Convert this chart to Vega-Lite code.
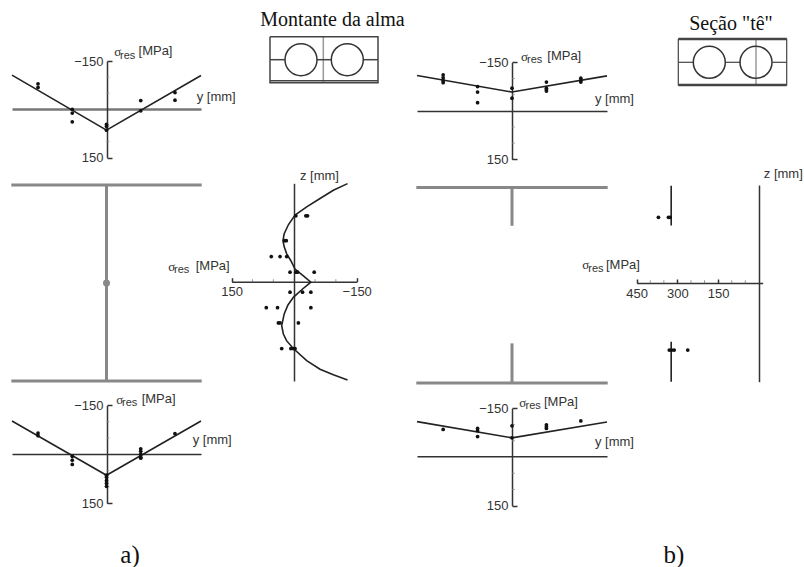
{
"$schema":"https://vega.github.io/schema/vega-lite/v6.json",
"width":804,"height":567,"padding":0,"autosize":{"type":"none"},
"background":"white",
"config":{"view":{"stroke":null},"axis":{"grid":false,"title":null,"labelFont":"Liberation Sans","labelFontSize":13,"labelColor":"#333","domainColor":"#333","tickColor":"#333","labelFlush":false,"labelOverlap":false,"labelBound":false,"domainWidth":1.5,"tickWidth":1.5}},
"datasets":{
"aTopFit":[{"y_mm":-138,"sigma":-106},{"y_mm":0,"sigma":65},{"y_mm":138,"sigma":-105}],
"aTopPts":[{"y_mm":-100,"sigma":-79},{"y_mm":-100,"sigma":-68},{"y_mm":-50,"sigma":0},{"y_mm":-50,"sigma":12},{"y_mm":-50,"sigma":39},{"y_mm":0,"sigma":47},{"y_mm":0,"sigma":53},{"y_mm":0,"sigma":65},{"y_mm":50,"sigma":-27},{"y_mm":50,"sigma":5},{"y_mm":100,"sigma":-52},{"y_mm":100,"sigma":-28}],
"aBotFit":[{"y_mm":-138,"sigma":-102},{"y_mm":0,"sigma":64},{"y_mm":138,"sigma":-102}],
"aBotPts":[{"y_mm":-100,"sigma":-65},{"y_mm":-100,"sigma":-57},{"y_mm":-50,"sigma":6},{"y_mm":-50,"sigma":18},{"y_mm":-50,"sigma":31},{"y_mm":0,"sigma":64},{"y_mm":0,"sigma":70},{"y_mm":0,"sigma":80},{"y_mm":0,"sigma":89},{"y_mm":0,"sigma":98},{"y_mm":50,"sigma":-17},{"y_mm":50,"sigma":-9},{"y_mm":50,"sigma":0},{"y_mm":50,"sigma":9},{"y_mm":50,"sigma":12},{"y_mm":100,"sigma":-63}],
"bTopFit":[{"y_mm":-138,"sigma":-109},{"y_mm":0,"sigma":-58},{"y_mm":138,"sigma":-108}],
"bTopPts":[{"y_mm":-100,"sigma":-111},{"y_mm":-100,"sigma":-102},{"y_mm":-100,"sigma":-93},{"y_mm":-100,"sigma":-87},{"y_mm":-50,"sigma":-75},{"y_mm":-50,"sigma":-58},{"y_mm":-50,"sigma":-25},{"y_mm":0,"sigma":-70},{"y_mm":0,"sigma":-39},{"y_mm":50,"sigma":-89},{"y_mm":50,"sigma":-70},{"y_mm":50,"sigma":-65},{"y_mm":50,"sigma":-61},{"y_mm":100,"sigma":-101},{"y_mm":100,"sigma":-93},{"y_mm":100,"sigma":-89}],
"bBotFit":[{"y_mm":-138,"sigma":-109},{"y_mm":0,"sigma":-59},{"y_mm":138,"sigma":-108}],
"bBotPts":[{"y_mm":-100,"sigma":-85},{"y_mm":-50,"sigma":-88},{"y_mm":-50,"sigma":-81},{"y_mm":-50,"sigma":-63},{"y_mm":0,"sigma":-96},{"y_mm":0,"sigma":-59},{"y_mm":50,"sigma":-99},{"y_mm":50,"sigma":-93},{"y_mm":50,"sigma":-88},{"y_mm":100,"sigma":-111}],
"minorY":[{"y_mm":0,"sigma":-100},{"y_mm":0,"sigma":-50},{"y_mm":0,"sigma":50},{"y_mm":0,"sigma":100}],
"webAFit":[{"o":1,"sigma":-128,"z_mm":142.5},{"o":2,"sigma":-94,"z_mm":133},{"o":3,"sigma":-62,"z_mm":121},{"o":4,"sigma":-30,"z_mm":109},{"o":5,"sigma":-2,"z_mm":97},{"o":6,"sigma":14,"z_mm":83},{"o":7,"sigma":24,"z_mm":70},{"o":8,"sigma":27,"z_mm":60},{"o":9,"sigma":24,"z_mm":51},{"o":10,"sigma":18,"z_mm":41},{"o":11,"sigma":8,"z_mm":31},{"o":12,"sigma":-2,"z_mm":19},{"o":13,"sigma":-22,"z_mm":9},{"o":14,"sigma":-40,"z_mm":0},{"o":15,"sigma":-18,"z_mm":-11},{"o":16,"sigma":2,"z_mm":-22},{"o":17,"sigma":15,"z_mm":-33},{"o":18,"sigma":24,"z_mm":-46},{"o":19,"sigma":30,"z_mm":-63},{"o":20,"sigma":26,"z_mm":-75},{"o":21,"sigma":18,"z_mm":-85},{"o":22,"sigma":2,"z_mm":-96},{"o":23,"sigma":-30,"z_mm":-113.5},{"o":24,"sigma":-62,"z_mm":-126},{"o":25,"sigma":-94,"z_mm":-134},{"o":26,"sigma":-128,"z_mm":-141.5}],
"webAPts":[{"sigma":-4,"z_mm":96},{"sigma":-28,"z_mm":96},{"sigma":-32,"z_mm":96},{"sigma":19,"z_mm":60},{"sigma":23,"z_mm":60},{"sigma":55,"z_mm":37},{"sigma":34,"z_mm":37},{"sigma":18,"z_mm":37},{"sigma":10,"z_mm":14.5},{"sigma":-4,"z_mm":14.5},{"sigma":-8,"z_mm":14.5},{"sigma":-48,"z_mm":14.5},{"sigma":10,"z_mm":-14.5},{"sigma":-20,"z_mm":-14.5},{"sigma":-40,"z_mm":-14.5},{"sigma":67,"z_mm":-37},{"sigma":40,"z_mm":-37},{"sigma":-40,"z_mm":-37},{"sigma":38,"z_mm":-59},{"sigma":34,"z_mm":-59},{"sigma":-10,"z_mm":-59},{"sigma":30,"z_mm":-96},{"sigma":8,"z_mm":-96},{"sigma":2,"z_mm":-96},{"sigma":-2,"z_mm":-96}],
"minorWebA":[{"sigma":100,"z_mm":0},{"sigma":50,"z_mm":0},{"sigma":-50,"z_mm":0},{"sigma":-100,"z_mm":0}],
"webBFit":[{"part":"top","sigma":323,"z_mm":142},{"part":"top","sigma":323,"z_mm":84},{"part":"bottom","sigma":323,"z_mm":-85},{"part":"bottom","sigma":323,"z_mm":-143}],
"webBPts":[{"sigma":370,"z_mm":96},{"sigma":333,"z_mm":96},{"sigma":327,"z_mm":96},{"sigma":330,"z_mm":-97},{"sigma":321,"z_mm":-97},{"sigma":312,"z_mm":-97},{"sigma":262,"z_mm":-97}],
"minorWebB":[{"sigma":400,"z_mm":0},{"sigma":350,"z_mm":0},{"sigma":250,"z_mm":0},{"sigma":200,"z_mm":0},{"sigma":100,"z_mm":0},{"sigma":50,"z_mm":0}],
"sectionA":[{"part":"top flange","y_mm":-139,"z_mm":143},{"part":"top flange","y_mm":139,"z_mm":143},{"part":"bottom flange","y_mm":-139,"z_mm":-143},{"part":"bottom flange","y_mm":139,"z_mm":-143},{"part":"web","y_mm":0,"z_mm":143},{"part":"web","y_mm":0,"z_mm":-143}],
"sectionB":[{"part":"top flange","y_mm":-139,"z_mm":143},{"part":"top flange","y_mm":139,"z_mm":143},{"part":"bottom flange","y_mm":-139,"z_mm":-143},{"part":"bottom flange","y_mm":139,"z_mm":-143},{"part":"top stem","y_mm":0,"z_mm":143},{"part":"top stem","y_mm":0,"z_mm":87},{"part":"bottom stem","y_mm":0,"z_mm":-143},{"part":"bottom stem","y_mm":0,"z_mm":-85}],
"beamA":[{"role":"thin","part":"outer","o":1,"u":0,"v":0},{"role":"thin","part":"outer","o":2,"u":108,"v":0},{"role":"thin","part":"outer","o":3,"u":108,"v":46},{"role":"thin","part":"outer","o":4,"u":0,"v":46},{"role":"thin","part":"outer","o":5,"u":0,"v":0},{"role":"thin","part":"second","o":1,"u":0,"v":44},{"role":"thin","part":"second","o":2,"u":108,"v":44},{"role":"thin","part":"l1","o":1,"u":0,"v":23},{"role":"thin","part":"l1","o":2,"u":15,"v":23},{"role":"thin","part":"l2","o":1,"u":47,"v":23},{"role":"thin","part":"l2","o":2,"u":61,"v":23},{"role":"thin","part":"l3","o":1,"u":93,"v":23},{"role":"thin","part":"l3","o":2,"u":108,"v":23},{"role":"cut","part":"cut","o":1,"u":53.3,"v":0},{"role":"cut","part":"cut","o":2,"u":53.3,"v":46}],
"beamAHoles":[{"u":31,"v":23},{"u":77.3,"v":23}],
"beamB":[{"role":"thin","part":"outer","o":1,"u":0,"v":0},{"role":"thin","part":"outer","o":2,"u":108.4,"v":0},{"role":"thin","part":"outer","o":3,"u":108.4,"v":46},{"role":"thin","part":"outer","o":4,"u":0,"v":46},{"role":"thin","part":"outer","o":5,"u":0,"v":0},{"role":"thick","part":"top","o":1,"u":0,"v":0},{"role":"thick","part":"top","o":2,"u":108.4,"v":0},{"role":"thick","part":"bottom","o":1,"u":0,"v":46},{"role":"thick","part":"bottom","o":2,"u":108.4,"v":46},{"role":"thin","part":"l1","o":1,"u":0,"v":23.3},{"role":"thin","part":"l1","o":2,"u":15,"v":23.3},{"role":"thin","part":"l2","o":1,"u":47,"v":23.3},{"role":"thin","part":"l2","o":2,"u":62,"v":23.3},{"role":"thin","part":"l3","o":1,"u":94,"v":23.3},{"role":"thin","part":"l3","o":2,"u":108.4,"v":23.3},{"role":"cut","part":"cut","o":1,"u":77.7,"v":0},{"role":"cut","part":"cut","o":2,"u":77.7,"v":46}],
"beamBHoles":[{"u":31,"v":23.3},{"u":77.7,"v":23.3}],
"sigmaLabels":[{"fx":14.22,"fy":9.17,"t":"σ"},{"fx":64.80,"fy":10.0,"t":"σ"},{"fx":14.47,"fy":70.55,"t":"σ"},{"fx":64.59,"fy":71.02,"t":"σ"},{"fx":20.93,"fy":47.04,"t":"σ"},{"fx":72.43,"fy":46.74,"t":"σ"}],
"subLabels":[{"fx":14.93,"fy":9.96,"t":"res"},{"fx":65.55,"fy":10.55,"t":"res"},{"fx":15.17,"fy":71.08,"t":"res"},{"fx":65.36,"fy":71.52,"t":"res"},{"fx":21.64,"fy":47.62,"t":"res"},{"fx":73.17,"fy":47.44,"t":"res"}],
"axisLabels":[{"fx":17.23,"fy":9.08,"t":"[MPa]"},{"fx":68.07,"fy":9.82,"t":"[MPa]"},{"fx":17.62,"fy":70.42,"t":"[MPa]"},{"fx":67.66,"fy":70.85,"t":"[MPa]"},{"fx":24.34,"fy":46.86,"t":"[MPa]"},{"fx":75.37,"fy":46.74,"t":"[MPa]"},{"fx":24.47,"fy":17.05,"t":"y [mm]"},{"fx":23.97,"fy":77.6,"t":"y [mm]"},{"fx":74.0,"fy":17.46,"t":"y [mm]"},{"fx":74.0,"fy":78.0,"t":"y [mm]"},{"fx":37.31,"fy":30.99,"t":"z [mm]"},{"fx":95.0,"fy":30.74,"t":"z [mm]"}],
"titles":[{"fx":41.36,"fy":3.53,"t":"Montante da alma"},{"fx":90.92,"fy":4.23,"t":"Seção \"tê\""}],
"captions":[{"fx":16.17,"fy":97.88,"t":"a)"},{"fx":83.83,"fy":97.88,"t":"b)"}]
},
"resolve":{"scale":{"x":"independent","y":"independent"},"axis":{"x":"independent","y":"independent"}},
"layer":[
{"encoding":{"x":{"field":"y_mm","type":"quantitative","scale":{"domain":[-138,138],"range":[12,201],"nice":false,"zero":false},"axis":null},"y":{"field":"z_mm","type":"quantitative","scale":{"domain":[-143,143],"range":[381,185],"nice":false,"zero":false},"axis":null}},
 "layer":[
 {"data":{"name":"sectionA"},"mark":{"type":"line","color":"#888","strokeWidth":3},"encoding":{"detail":{"field":"part"}}},
 {"data":{"values":[{"y_mm":0,"z_mm":0}]},"mark":{"type":"point","filled":true,"color":"#888","size":49,"opacity":1}}
 ]},
{"data":{"name":"sectionB"},"mark":{"type":"line","color":"#888","strokeWidth":3},"encoding":{"detail":{"field":"part"},"x":{"field":"y_mm","type":"quantitative","scale":{"domain":[-138,138],"range":[417,607],"nice":false,"zero":false},"axis":null},"y":{"field":"z_mm","type":"quantitative","scale":{"domain":[-143,143],"range":[383,187.5],"nice":false,"zero":false},"axis":null}}},
{"encoding":{"x":{"field":"y_mm","type":"quantitative","scale":{"domain":[-138,138],"range":[12,201],"nice":false,"zero":false},"axis":{"orient":"bottom","offset":-458,"ticks":false,"labels":false,"domainColor":"#777","domainWidth":2.5}},"y":{"field":"sigma","type":"quantitative","scale":{"domain":[-150,150],"range":[61,157.5],"nice":false,"zero":false},"axis":{"orient":"left","offset":-107,"values":[-150,150],"tickSize":-5,"labelPadding":9,"labelExpr":"datum.value<0?'−150':'150'"}}},
 "layer":[
 {"data":{"name":"minorY"},"mark":{"type":"tick","orient":"horizontal","size":3,"thickness":1,"color":"#888","xOffset":1.5}},
 {"data":{"name":"aTopFit"},"mark":{"type":"line","color":"#222","strokeWidth":1.6}},
 {"data":{"name":"aTopPts"},"mark":{"type":"point","filled":true,"color":"#111","size":14,"opacity":1}}
 ]},
{"encoding":{"x":{"field":"y_mm","type":"quantitative","scale":{"domain":[-138,138],"range":[12,201],"nice":false,"zero":false},"axis":{"orient":"bottom","offset":-113,"ticks":false,"labels":false}},"y":{"field":"sigma","type":"quantitative","scale":{"domain":[-150,150],"range":[405.3,503.3],"nice":false,"zero":false},"axis":{"orient":"left","offset":-107,"values":[-150,150],"tickSize":-5,"labelPadding":9,"labelExpr":"datum.value<0?'−150':'150'"}}},
 "layer":[
 {"data":{"name":"minorY"},"mark":{"type":"tick","orient":"horizontal","size":3,"thickness":1,"color":"#888","xOffset":1.5}},
 {"data":{"name":"aBotFit"},"mark":{"type":"line","color":"#222","strokeWidth":1.6}},
 {"data":{"name":"aBotPts"},"mark":{"type":"point","filled":true,"color":"#111","size":14,"opacity":1}}
 ]},
{"encoding":{"x":{"field":"y_mm","type":"quantitative","scale":{"domain":[-138,138],"range":[417,607],"nice":false,"zero":false},"axis":{"orient":"bottom","offset":-456,"ticks":false,"labels":false}},"y":{"field":"sigma","type":"quantitative","scale":{"domain":[-150,150],"range":[62.3,159.3],"nice":false,"zero":false},"axis":{"orient":"left","offset":-512,"values":[-150,150],"tickSize":-5,"labelPadding":9,"labelExpr":"datum.value<0?'−150':'150'"}}},
 "layer":[
 {"data":{"name":"minorY"},"mark":{"type":"tick","orient":"horizontal","size":3,"thickness":1,"color":"#888","xOffset":1.5}},
 {"data":{"name":"bTopFit"},"mark":{"type":"line","color":"#222","strokeWidth":1.6}},
 {"data":{"name":"bTopPts"},"mark":{"type":"point","filled":true,"color":"#111","size":14,"opacity":1}}
 ]},
{"encoding":{"x":{"field":"y_mm","type":"quantitative","scale":{"domain":[-138,138],"range":[417,607],"nice":false,"zero":false},"axis":{"orient":"bottom","offset":-110.7,"ticks":false,"labels":false}},"y":{"field":"sigma","type":"quantitative","scale":{"domain":[-150,150],"range":[408.3,505.7],"nice":false,"zero":false},"axis":{"orient":"left","offset":-512,"values":[-150,150],"tickSize":-5,"labelPadding":9,"labelExpr":"datum.value<0?'−150':'150'"}}},
 "layer":[
 {"data":{"name":"minorY"},"mark":{"type":"tick","orient":"horizontal","size":3,"thickness":1,"color":"#888","xOffset":1.5}},
 {"data":{"name":"bBotFit"},"mark":{"type":"line","color":"#222","strokeWidth":1.6}},
 {"data":{"name":"bBotPts"},"mark":{"type":"point","filled":true,"color":"#111","size":14,"opacity":1}}
 ]},
{"encoding":{"x":{"field":"sigma","type":"quantitative","scale":{"domain":[150,-150],"range":[231.7,356.7],"nice":false,"zero":false},"axis":{"orient":"bottom","offset":-285.3,"values":[150,-150],"tickSize":-4,"labelPadding":8,"labelExpr":"datum.value<0?'−150':'150'"}},"y":{"field":"z_mm","type":"quantitative","scale":{"domain":[-143,143],"range":[381,183.3],"nice":false,"zero":false},"axis":{"orient":"left","offset":-294,"ticks":false,"labels":false}}},
 "layer":[
 {"data":{"name":"minorWebA"},"mark":{"type":"tick","orient":"vertical","size":3,"thickness":1,"color":"#666","yOffset":-1.5}},
 {"data":{"name":"webAFit"},"mark":{"type":"line","color":"#222","strokeWidth":1.6},"encoding":{"order":{"field":"o"}}},
 {"data":{"name":"webAPts"},"mark":{"type":"point","filled":true,"color":"#111","size":14,"opacity":1}}
 ]},
{"encoding":{"x":{"field":"sigma","type":"quantitative","scale":{"domain":[450,-14],"range":[636.7,762.7],"nice":false,"zero":false},"axis":{"orient":"bottom","offset":-284,"values":[450,300,150],"tickSize":-4,"labelPadding":8,"format":"d"}},"y":{"field":"z_mm","type":"quantitative","scale":{"domain":[-143,143],"range":[381.7,185],"nice":false,"zero":false},"axis":{"orient":"left","offset":-759,"ticks":false,"labels":false}}},
 "layer":[
 {"data":{"name":"minorWebB"},"mark":{"type":"tick","orient":"vertical","size":3,"thickness":1,"color":"#666","yOffset":-1.5}},
 {"data":{"name":"webBFit"},"mark":{"type":"line","color":"#222","strokeWidth":1.6},"encoding":{"detail":{"field":"part"}}},
 {"data":{"name":"webBPts"},"mark":{"type":"point","filled":true,"color":"#111","size":14,"opacity":1}}
 ]},
{"encoding":{"x":{"field":"u","type":"quantitative","scale":{"domain":[0,108],"range":[270,378],"nice":false,"zero":false},"axis":null},"y":{"field":"v","type":"quantitative","scale":{"domain":[0,46],"range":[36.7,82.7],"nice":false,"zero":false},"axis":null}},
 "layer":[
 {"data":{"name":"beamA"},"transform":[{"filter":"datum.role=='cut'"}],"mark":{"type":"line","color":"#999","strokeWidth":1.5},"encoding":{"detail":{"field":"part"},"order":{"field":"o"}}},
 {"data":{"name":"beamA"},"transform":[{"filter":"datum.role=='thin'"}],"mark":{"type":"line","color":"#444","strokeWidth":1.5},"encoding":{"detail":{"field":"part"},"order":{"field":"o"}}},
 {"data":{"name":"beamAHoles"},"mark":{"type":"point","filled":false,"color":"#333","strokeWidth":1.5,"size":1024,"opacity":1}}
 ]},
{"encoding":{"x":{"field":"u","type":"quantitative","scale":{"domain":[0,108.4],"range":[678.3,786.7],"nice":false,"zero":false},"axis":null},"y":{"field":"v","type":"quantitative","scale":{"domain":[0,46],"range":[39,85],"nice":false,"zero":false},"axis":null}},
 "layer":[
 {"data":{"name":"beamB"},"transform":[{"filter":"datum.role=='cut'"}],"mark":{"type":"line","color":"#999","strokeWidth":1.5},"encoding":{"detail":{"field":"part"},"order":{"field":"o"}}},
 {"data":{"name":"beamB"},"transform":[{"filter":"datum.role=='thin'"}],"mark":{"type":"line","color":"#444","strokeWidth":1.2},"encoding":{"detail":{"field":"part"},"order":{"field":"o"}}},
 {"data":{"name":"beamB"},"transform":[{"filter":"datum.role=='thick'"}],"mark":{"type":"line","color":"#444","strokeWidth":2.5},"encoding":{"detail":{"field":"part"},"order":{"field":"o"}}},
 {"data":{"name":"beamBHoles"},"mark":{"type":"point","filled":false,"color":"#333","strokeWidth":1.5,"size":1024,"opacity":1}}
 ]},
{"encoding":{"x":{"field":"fx","type":"quantitative","scale":{"domain":[0,100],"range":[0,804],"nice":false,"zero":false},"axis":null},"y":{"field":"fy","type":"quantitative","scale":{"domain":[0,100],"range":[0,567],"nice":false,"zero":false},"axis":null},"text":{"field":"t","type":"nominal"}},
 "layer":[
 {"data":{"name":"sigmaLabels"},"mark":{"type":"text","align":"left","baseline":"middle","font":"Liberation Serif","fontSize":13,"color":"#333"}},
 {"data":{"name":"subLabels"},"mark":{"type":"text","align":"left","baseline":"middle","font":"Liberation Sans","fontSize":11,"color":"#333"}},
 {"data":{"name":"axisLabels"},"mark":{"type":"text","align":"left","baseline":"middle","font":"Liberation Sans","fontSize":13,"color":"#333"}},
 {"data":{"name":"titles"},"mark":{"type":"text","align":"center","baseline":"middle","font":"Liberation Serif","fontSize":20,"color":"#111"}},
 {"data":{"name":"captions"},"mark":{"type":"text","align":"center","baseline":"middle","font":"Liberation Serif","fontSize":25,"color":"#111"}}
 ]}
]}
